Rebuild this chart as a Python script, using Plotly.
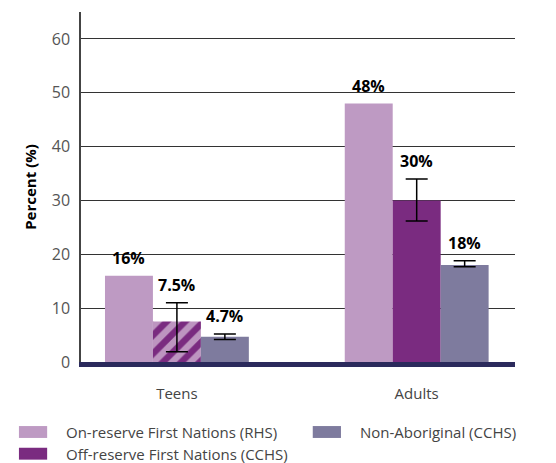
import plotly.graph_objects as go

groups = ["Teens", "Adults"]
series = ["On-reserve First Nations (RHS)", "Off-reserve First Nations (CCHS)", "Non-Aboriginal (CCHS)"]
on_reserve = [16, 48]
off_reserve = [7.5, 30]
non_aboriginal = [4.7, 18]
off_err_plus = [3.5, 4.0]
off_err_minus = [5.6, 3.8]
non_err_plus = [0.5, 0.8]
non_err_minus = [0.5, 0.3]
labels = [["16%", "48%"], ["7.5%", "30%"], ["4.7%", "18%"]]
colors = ["#BE9AC3", "#7A2B80", "#7E7B9E"]

fig = go.Figure()
fig.add_trace(go.Bar(x=groups, y=on_reserve, name=series[0], marker_color=colors[0],
                     marker_line_width=0, showlegend=False))
fig.add_trace(go.Bar(x=groups, y=off_reserve, name=series[1], marker_color=colors[1],
                     marker_line_width=0, showlegend=False,
                     marker_pattern=dict(shape=["/", ""], fgcolor="white", bgcolor=colors[1],
                                         size=13, solidity=0.5),
                     error_y=dict(type="data", symmetric=False, array=off_err_plus,
                                  arrayminus=off_err_minus, color="black", thickness=1.5, width=11)))
fig.add_trace(go.Bar(x=groups, y=non_aboriginal, name=series[2], marker_color=colors[2],
                     marker_line_width=0, showlegend=False,
                     error_y=dict(type="data", symmetric=False, array=non_err_plus,
                                  arrayminus=non_err_minus, color="black", thickness=1.5, width=11)))

# value labels above bars / error bars
tops = [on_reserve,
        [v + e for v, e in zip(off_reserve, off_err_plus)],
        [v + e for v, e in zip(non_aboriginal, non_err_plus)]]
offsets = [-0.2, 0.0, 0.2]
for s in range(3):
    for g in range(2):
        fig.add_annotation(x=g + offsets[s], y=tops[s][g], text="<b>" + labels[s][g] + "</b>",
                           showarrow=False, yanchor="bottom", yshift=5,
                           font=dict(size=16, color="black", family="Open Sans"))

# legend drawn by hand, two columns
leg = [(0, 0.0, 0), (1, 0.0, 1), (2, 0.677, 0)]
for s, lx, row in leg:
    y0 = -0.2 - row * 0.062
    fig.add_shape(type="rect", xref="paper", yref="paper", x0=-0.143 + lx, x1=-0.078 + lx,
                  y0=y0 - 0.017, y1=y0 + 0.017, fillcolor=colors[s], line_width=0)
    fig.add_annotation(xref="paper", yref="paper", x=-0.039 + lx, y=y0, text=series[s],
                       showarrow=False, xanchor="left", yanchor="middle",
                       font=dict(size=15, color="#444", family="Open Sans"))

# page has an 8px body margin, so the figure is 8px smaller each way
fig.update_layout(
    width=548, height=455,
    margin=dict(l=73, r=41, t=4, b=101),
    plot_bgcolor="white", paper_bgcolor="white",
    barmode="group", bargap=0.4, bargroupgap=0,
    font=dict(family="Open Sans", color="#555"),
)
fig.update_xaxes(range=[-0.4, 1.41], showline=True, linecolor="#2B2A5C", linewidth=5,
                 ticks="outside", ticklen=14, tickcolor="rgba(0,0,0,0)", automargin=False,
                 tickfont=dict(size=15, color="#444"), showgrid=False)
fig.update_yaxes(range=[0, 65], tickvals=[0, 10, 20, 30, 40, 50, 60], showline=True,
                 linecolor="#444", linewidth=1.5, gridcolor="#333", gridwidth=1,
                 zeroline=False, ticks="outside", ticklen=6, tickcolor="rgba(0,0,0,0)",
                 tickfont=dict(size=16, color="#555"), automargin=False,
                 title=dict(text="<b>Percent (%)</b>", standoff=12,
                            font=dict(size=15, color="black")))

fig.write_html("out.html")
